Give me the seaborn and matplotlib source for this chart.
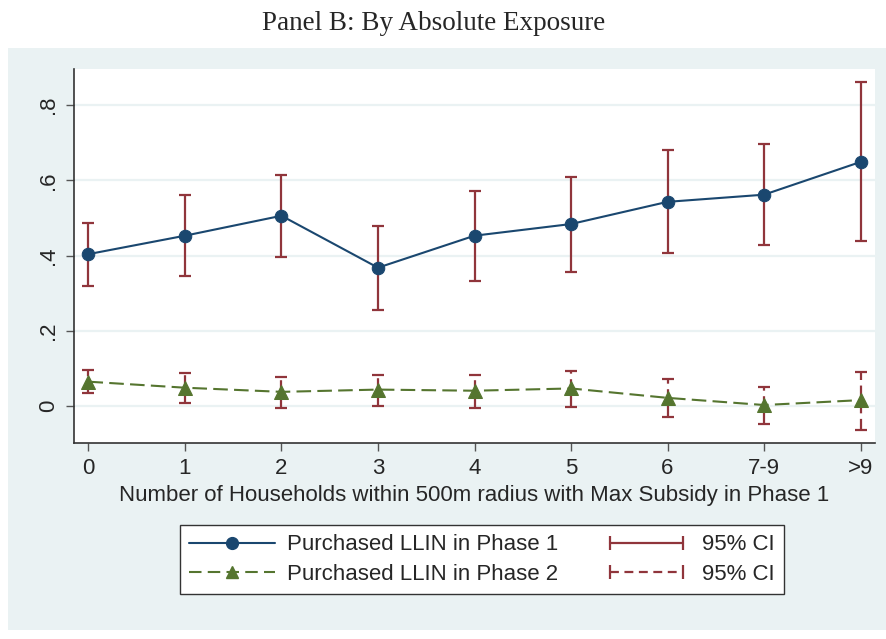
import numpy as np
import pandas as pd
import seaborn as sns
import matplotlib.pyplot as plt
from matplotlib.lines import Line2D
from matplotlib.patches import Rectangle
from matplotlib.legend_handler import HandlerLine2D

groups = ["0", "1", "2", "3", "4", "5", "6", "7-9", ">9"]
phase1 = [0.404, 0.453, 0.506, 0.368, 0.453, 0.484, 0.543, 0.562, 0.649]
phase1_lo = [0.319, 0.345, 0.397, 0.255, 0.332, 0.357, 0.406, 0.428, 0.439]
phase1_hi = [0.487, 0.561, 0.614, 0.479, 0.573, 0.610, 0.680, 0.698, 0.861]
phase2 = [0.065, 0.049, 0.038, 0.044, 0.041, 0.047, 0.022, 0.003, 0.016]
phase2_lo = [0.036, 0.009, -0.004, 0.001, -0.005, -0.002, -0.030, -0.048, -0.064]
phase2_hi = [0.096, 0.087, 0.078, 0.084, 0.084, 0.093, 0.072, 0.050, 0.091]

navy = "#1a476f"
green = "#55752f"
red = "#90353b"
bg = "#eaf2f3"
fs = 16

df = pd.DataFrame({"pos": np.arange(len(groups)),
                   "p1": phase1, "p1_lo": phase1_lo, "p1_hi": phase1_hi,
                   "p2": phase2, "p2_lo": phase2_lo, "p2_hi": phase2_hi})

sns.set_style("white")
plt.rcParams["font.family"] = ["Liberation Sans", "DejaVu Sans"]

fig = plt.figure(figsize=(8.87, 6.39), dpi=100)
fig.patches.append(Rectangle((0.009, 0.014), 0.991, 0.911, transform=fig.transFigure,
                             facecolor=bg, edgecolor="none", zorder=-10))
ax = fig.add_axes([0.0834, 0.3067, 0.9031, 0.5853])
ax.set_facecolor("white")

for y in [0, 0.2, 0.4, 0.6, 0.8]:
    ax.axhline(y, color=bg, lw=1.6, zorder=0)

# confidence intervals
ax.errorbar(df.pos, df.p1, yerr=[df.p1 - df.p1_lo, df.p1_hi - df.p1], fmt="none",
            ecolor=red, elinewidth=1.6, capsize=4.5, capthick=1.6, zorder=2)
eb2 = ax.errorbar(df.pos, df.p2, yerr=[df.p2 - df.p2_lo, df.p2_hi - df.p2], fmt="none",
                  ecolor=red, elinewidth=1.6, capsize=4.5, capthick=1.6, zorder=2)
eb2[2][0].set_linestyle((0, (5, 2.5)))

sns.lineplot(data=df, x="pos", y="p1", ax=ax, color=navy, lw=1.5, marker="o",
             markersize=9, markeredgecolor=navy, zorder=3)
sns.lineplot(data=df, x="pos", y="p2", ax=ax, color=green, lw=1.5, marker="^",
             markersize=9.5, markeredgecolor=green, dashes=False, zorder=3)
ax.lines[-1].set_linestyle((0, (7, 3)))

ax.set_xlim(-0.15, 8.15)
ax.set_ylim(-0.098, 0.896)
ax.set_xticks(df.pos)
ax.set_xticklabels(groups)
ax.set_yticks([0, 0.2, 0.4, 0.6, 0.8])
ax.set_yticklabels(["0", ".2", ".4", ".6", ".8"], rotation=90, va="center")
ax.tick_params(axis="both", labelsize=fs, length=6, width=1, color="#555555",
               direction="out", left=True, bottom=True, pad=5)
for side in ["top", "right"]:
    ax.spines[side].set_visible(False)
for side in ["left", "bottom"]:
    ax.spines[side].set_color("#333333")
    ax.spines[side].set_linewidth(1.2)
ax.set_xlabel("Number of Households within 500m radius with Max Subsidy in Phase 1",
              fontsize=fs, labelpad=4)
ax.set_ylabel("")

fig.text(0.489, 0.963, "Panel B: By Absolute Exposure", ha="center", va="center",
         fontsize=19.5, family=["Liberation Serif", "DejaVu Serif"])

h1 = Line2D([], [], color=navy, lw=1.5, marker="o", markersize=8.5)
h2 = Line2D([], [], color=green, lw=1.5, ls=(0, (6, 3)), marker="^", markersize=9)
h3 = Line2D([], [], color=red, lw=1.6, marker="|", markersize=10, markeredgewidth=1.6)
h4 = Line2D([], [], color=red, lw=1.6, ls=(0, (4, 2.5)), marker="|", markersize=10,
            markeredgewidth=1.6)
leg = fig.legend([h1, h2, h3, h4],
                 ["Purchased LLIN in Phase 1", "Purchased LLIN in Phase 2", "95% CI", "95% CI"],
                 ncol=2, loc="center", bbox_to_anchor=(0.543, 0.124), fontsize=fs,
                 handlelength=3.9, columnspacing=2.0, handletextpad=0.55,
                 labelspacing=0.4, borderpad=0.4, borderaxespad=0, fancybox=False,
                 framealpha=1, numpoints=1,
                 handler_map={h3: HandlerLine2D(numpoints=2), h4: HandlerLine2D(numpoints=2)})
leg.get_frame().set_edgecolor("#333333")
leg.get_frame().set_linewidth(1)

fig.savefig("out.png", dpi=100)
